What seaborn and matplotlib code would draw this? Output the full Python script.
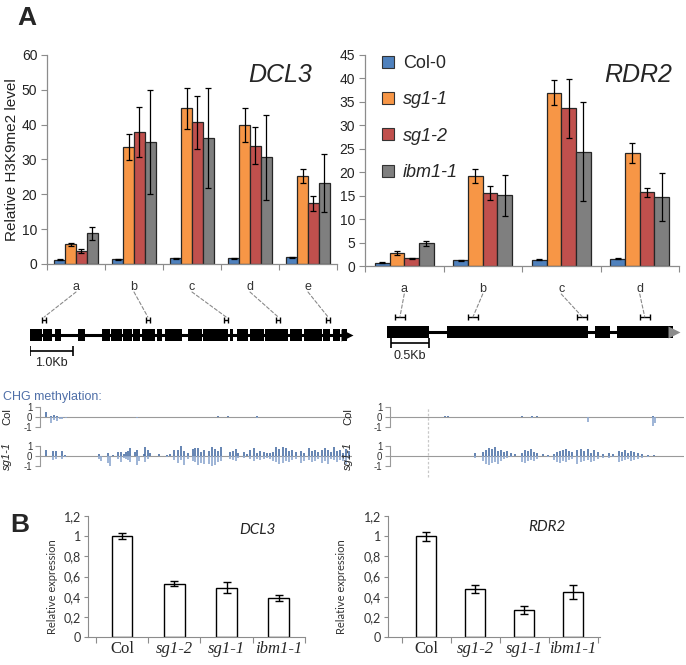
import numpy as np
import pandas as pd
import matplotlib.pyplot as plt
import seaborn as sns
from matplotlib.patches import ConnectionPatch, Patch

W, H = 686, 665

# ---------------- data ----------------
genotypes = ["Col-0", "sg1-1", "sg1-2", "ibm1-1"]
colors = ["#4F81BD", "#F79646", "#C0504D", "#7F7F7F"]

dcl3_regions = ["a", "b", "c", "d", "e"]
dcl3_col0 = [1.2, 1.3, 1.6, 1.6, 1.9]
dcl3_sg11 = [5.6, 33.5, 44.7, 39.9, 25.3]
dcl3_sg12 = [3.8, 37.9, 40.7, 34.0, 17.4]
dcl3_ibm1 = [8.8, 35.0, 36.1, 30.6, 23.2]
dcl3_col0_err = [0.1, 0.15, 0.15, 0.15, 0.15]
dcl3_sg11_err = [0.4, 3.7, 5.9, 4.8, 2.0]
dcl3_sg12_err = [0.5, 7.2, 7.6, 5.3, 2.2]
dcl3_ibm1_err = [1.9, 15.0, 14.3, 12.2, 8.4]

rdr2_regions = ["a", "b", "c", "d"]
rdr2_col0 = [0.7, 1.2, 1.3, 1.5]
rdr2_sg11 = [2.8, 19.2, 37.0, 24.1]
rdr2_sg12 = [1.6, 15.5, 33.6, 15.7]
rdr2_ibm1 = [4.8, 15.1, 24.4, 14.7]
rdr2_col0_err = [0.1, 0.1, 0.1, 0.1]
rdr2_sg11_err = [0.5, 1.4, 2.7, 2.2]
rdr2_sg12_err = [0.2, 1.5, 6.2, 0.9]
rdr2_ibm1_err = [0.6, 4.4, 10.6, 5.1]

# gene models (kb from start)
dcl3_exon_start = [0.00, 0.31, 0.58, 1.11, 1.67, 1.88, 2.17, 2.40, 2.60, 2.95, 3.14,
                   3.68, 4.03, 4.65, 4.81, 5.12, 5.47, 6.05, 6.36, 6.82, 7.05, 7.25]
dcl3_exon_end = [0.27, 0.50, 0.71, 1.28, 1.86, 2.13, 2.36, 2.56, 2.91, 3.06, 3.53,
                 3.99, 4.61, 4.73, 5.08, 5.43, 6.01, 6.32, 6.78, 6.98, 7.21, 7.36]
dcl3_primers = [0.33, 2.74, 4.56, 5.77, 6.93]
rdr2_exon_start = [0.00, 0.79, 2.74, 3.03]
rdr2_exon_end = [0.55, 2.64, 2.93, 3.76]
rdr2_primers = [0.17, 1.13, 2.57, 3.39]
rdr2_boundary_kb = 0.54

# CHG methylation (kb, top strand, bottom strand)
dcl3_col_pos = [0.37, 0.49, 0.56, 0.63, 0.70, 0.74, 0.84, 1.07, 1.44, 1.49, 1.81, 2.49,
                3.16, 4.37, 4.60, 5.28, 6.05, 6.12, 6.53, 7.00]
dcl3_col_up = [0.5, 0.15, 0.2, 0.1, 0.05, 0.05, 0.05, 0.05, 0.05, 0.05, 0.05, 0.0,
               0.05, 0.06, 0.06, 0.08, 0.05, 0.05, 0.05, 0.04]
dcl3_col_dn = [0.0, -0.6, -0.3, -0.4, -0.2, -0.15, -0.1, 0, 0, 0, 0, -0.05,
               0, 0, 0, -0.05, 0, 0, 0, 0]

dcl3_sg1_pos = [0.37, 0.53, 0.60, 0.74, 0.81,
                1.60, 1.65, 1.81, 1.86, 1.93, 2.05, 2.12, 2.19, 2.23, 2.28, 2.33, 2.44, 2.49,
                2.53, 2.65, 2.67, 2.74, 2.79,
                3.00, 3.19, 3.26, 3.35, 3.44, 3.51, 3.58, 3.67, 3.79,
                3.84, 3.91, 3.98, 4.05,
                4.16, 4.23, 4.30, 4.37, 4.44,
                4.65, 4.72, 4.79, 4.84,
                4.98, 5.05, 5.12, 5.21, 5.28, 5.35,
                5.44, 5.51, 5.58, 5.65, 5.72, 5.79,
                5.88, 5.95, 6.02, 6.09, 6.19,
                6.30, 6.37, 6.49, 6.56, 6.63, 6.70,
                6.79, 6.86, 6.93, 7.00, 7.07, 7.14, 7.21, 7.28, 7.35, 7.42]
dcl3_sg1_up = [0.6, 0.5, 0.5, 0.5, 0.1,
               0.2, 0.0, 0.3, 0.0, 0.1, 0.4, 0.4, 0.2, 0.4, 0.5, 0.8, 0.4, 0.6, 0.0, 0.2, 0.9, 0.6, 0.3,
               0.2, 0.1, 0.2, 0.6, 0.6, 1.0, 0.5, 0.3, 0.7,
               0.8, 0.8, 0.4, 0.6,
               0.5, 0.9, 0.7, 0.5, 0.9,
               0.4, 0.5, 0.7, 0.3,
               0.4, 0.2, 0.6, 0.8, 0.3, 0.5,
               0.4, 0.3, 0.3, 0.4, 0.9, 0.7,
               0.9, 0.8, 0.5, 0.6, 0.4,
               0.5, 0.3, 0.8, 0.5, 0.6, 0.4,
               0.6, 0.8, 0.6, 0.4, 0.9, 0.5, 0.6, 0.3, 0.7, 0.5]
dcl3_sg1_dn = [0.0, -0.4, -0.3, -0.3, -0.1,
               -0.3, -0.5, -0.7, -1.0, 0.0, -0.3, -0.6, -0.2, -0.3, -0.4, -0.6, 0.0, -0.9, -0.5, 0.0,
               -0.6, -0.3, 0.0,
               0.0, -0.1, 0.0, -0.4, -0.7, -0.4, -0.9, -0.3, -0.5,
               -0.6, -0.9, -0.7, -0.8,
               -0.8, -1.0, -0.9, -0.6, -0.5,
               -0.3, -0.4, -0.5, -0.2,
               -0.2, 0.0, -0.3, -0.5, -0.3, -0.4,
               -0.3, -0.2, -0.3, -0.5, -0.6, -0.8,
               -0.7, -0.5, -0.6, -0.4, -0.3,
               -0.7, -0.5, -0.4, -0.6, -0.5, -0.3,
               -0.7, -0.5, -0.8, -0.3, -0.4, -0.6, -0.4, -0.5, -0.8, -0.3]

rdr2_col_pos = [0.21, 0.76, 0.80, 1.20, 1.62, 1.78, 1.84, 1.91, 1.97, 2.05, 2.10, 2.21,
                2.45, 2.51, 2.64, 2.71, 3.11, 3.22, 3.33, 3.50, 3.53, 3.57]
rdr2_col_up = [0.05, 0.08, 0.08, 0.05, 0.05, 0.08, 0.05, 0.08, 0.1, 0.05, 0.05, 0.05,
               0.05, 0.05, 0.05, 0.05, 0.05, 0.05, 0.05, 0.15, 0.05, 0.05]
rdr2_col_dn = [0, 0, 0, 0, 0, 0, 0, -0.05, 0, 0, 0, 0,
               0, 0, -0.5, 0, 0, 0, 0, -0.9, -0.6, 0]

rdr2_sg1_pos = [0.43, 0.89, 1.03, 1.16,
                1.26, 1.30, 1.34, 1.38, 1.42, 1.46, 1.50, 1.54, 1.58,
                1.63, 1.68,
                1.78, 1.82, 1.86, 1.90, 1.94, 1.98,
                2.05, 2.12,
                2.20, 2.24, 2.28, 2.32, 2.36, 2.40, 2.44,
                2.50, 2.56, 2.60, 2.64, 2.68, 2.72, 2.78, 2.84,
                2.92, 2.98,
                3.05, 3.09, 3.13, 3.17, 3.21, 3.25, 3.30, 3.36,
                3.44, 3.52, 3.62]
rdr2_sg1_up = [0.05, 0.05, 0.05, 0.3,
               0.4, 0.6, 0.8, 0.7, 0.9, 0.5, 0.6, 0.4, 0.5,
               0.3, 0.2,
               0.3, 0.6, 0.5, 0.7, 0.4, 0.3,
               0.2, 0.1,
               0.2, 0.4, 0.5, 0.6, 0.7, 0.5, 0.4,
               0.6, 0.7, 0.5, 0.7, 0.3, 0.6, 0.4, 0.2,
               0.3, 0.2,
               0.5, 0.4, 0.6, 0.3, 0.5, 0.4, 0.3, 0.2,
               0.1, 0.1, 0.05]
rdr2_sg1_dn = [0, 0, 0, -0.2,
               -0.5, -0.8, -0.9, -0.7, -0.6, -0.8, -0.5, -0.3, -0.2,
               -0.1, 0.0,
               -0.6, -0.7, -0.5, -0.4, -0.5, -0.3,
               0.0, -0.1,
               -0.4, -0.6, -0.7, -0.5, -0.6, -0.4, -0.3,
               -0.8, -0.6, -0.5, -0.4, -0.6, -0.5, -0.3, -0.2,
               -0.2, -0.1,
               -0.6, -0.5, -0.4, -0.3, -0.5, -0.4, -0.3, -0.2,
               -0.1, 0.0, 0.0]

# expression (panel B)
expr_labels = ["Col", "sg1-2", "sg1-1", "ibm1-1"]
dcl3_expr = [1.0, 0.528, 0.49, 0.39]
dcl3_expr_err = [0.03, 0.025, 0.058, 0.03]
rdr2_expr = [1.0, 0.475, 0.264, 0.445]
rdr2_expr_err = [0.045, 0.043, 0.04, 0.066]
expr_ticklabels = ["0", "0,2", "0,4", "0,6", "0,8", "1", "1,2"]

# ---------------- style ----------------
sns.set_style("ticks")
plt.rcParams["font.family"] = ["Liberation Sans", "DejaVu Sans"]
SPINE = "#8c8c8c"


def rect(x0, y0, x1, y1):
    return [x0 / W, 1 - y1 / H, (x1 - x0) / W, (y1 - y0) / H]


def chip_panel(ax, regions, vals, errs, ymax, step):
    n = len(regions)
    df = pd.DataFrame({"region": np.tile(regions, 4),
                       "genotype": np.repeat(genotypes, n),
                       "value": np.concatenate(vals)})
    sns.barplot(data=df, x="region", y="value", hue="genotype", hue_order=genotypes,
                palette=colors, saturation=1, width=0.75, edgecolor="#262626",
                linewidth=0.9, errorbar=None, legend=False, ax=ax)
    for cont, err in zip(ax.containers, errs):
        xs = [b.get_x() + b.get_width() / 2 for b in cont]
        hs = [b.get_height() for b in cont]
        ax.errorbar(xs, hs, yerr=err, fmt="none", ecolor="black", elinewidth=0.9,
                    capsize=2.5, capthick=0.9)
    sns.despine(ax=ax)
    for s in ["left", "bottom"]:
        ax.spines[s].set_color(SPINE)
        ax.spines[s].set_linewidth(0.9)
    ax.set_xlim(-0.5, n - 0.5)
    ax.set_ylim(0, ymax)
    ax.set_yticks(np.arange(0, ymax + 0.1, step))
    ax.tick_params(axis="y", labelsize=10, length=4, color=SPINE, pad=3, labelcolor="#222")
    ax.set_xticks(np.arange(n + 1) - 0.5, [""] * (n + 1))
    ax.set_xticks(range(n), regions, minor=True)
    ax.tick_params(axis="x", which="major", length=4, color=SPINE)
    ax.tick_params(axis="x", which="minor", length=0, labelsize=9, pad=12, labelcolor="#333")
    ax.set_xlabel("")
    ax.set_ylabel("")


def gene_model(ax, starts, ends, primers, yc, arrow_color, scale_kb, scale_x0, scale_y,
               label_y, pbar):
    ax.set_ylim(375, 300)
    ax.axis("off")
    ax.plot([starts[0], ends[-1]], [yc, yc], color="black", lw=2.2, solid_capstyle="butt")
    ax.broken_barh([(s, e - s) for s, e in zip(starts, ends)], (yc - 6, 12),
                   facecolors="black", edgecolors="none")
    ax.plot(ends[-1] + 0.02, yc, marker=">", ms=8.5, color=arrow_color, mec="none", clip_on=False)
    ax.errorbar(primers, [yc - 15.5] * len(primers), xerr=pbar, fmt="none", ecolor="black",
                elinewidth=1, capsize=2.2, capthick=1)
    ax.errorbar([scale_x0 + scale_kb / 2], [scale_y], xerr=scale_kb / 2, fmt="none",
                ecolor="black", elinewidth=1.2, capsize=3.5, capthick=1.2)
    ax.text(scale_x0 + scale_kb / 2, label_y, f"{scale_kb:.1f}Kb", ha="center", va="center",
            fontsize=9, color="#222")


def meth_track(ax, pos, up, dn, xlim, label, italic, label_x):
    ax.set_xlim(*xlim)
    ax.set_ylim(-1, 1)
    ax.axhline(0, color="#9a9a9a", lw=0.8, zorder=1)
    ax.vlines(pos, 0, up, color="#4A6FA5", lw=1.2, zorder=2)
    ax.vlines(pos, dn, 0, color="#8DA8D0", lw=1.2, zorder=2)
    for s in ["top", "right", "bottom"]:
        ax.spines[s].set_visible(False)
    ax.spines["left"].set_color("#9a9a9a")
    ax.spines["left"].set_linewidth(0.8)
    ax.set_xticks([])
    ax.set_yticks([-1, 0, 1], ["-1", "0", "1"])
    ax.tick_params(axis="y", labelsize=7, length=3.5, color="#9a9a9a", pad=2, labelcolor="#333")
    ax.set_facecolor("none")
    # rotated track name, centred at label_x (pixels from figure left)
    x0 = ax.get_position().x0 * W
    ax.text((label_x - x0) / (ax.get_position().width * W), 0.5, label,
            transform=ax.transAxes, rotation=90, ha="center", va="center",
            fontsize=8, style="italic" if italic else "normal", color="#222")


def expr_panel(ax, vals, errs, xlim):
    df = pd.DataFrame({"genotype": expr_labels, "value": vals})
    sns.barplot(data=df, x="genotype", y="value", color="white", saturation=1,
                edgecolor="black", linewidth=1, width=0.4, errorbar=None, ax=ax)
    cont = ax.containers[0]
    xs = [b.get_x() + b.get_width() / 2 for b in cont]
    hs = [b.get_height() for b in cont]
    ax.errorbar(xs, hs, yerr=errs, fmt="none", ecolor="black", elinewidth=1,
                capsize=3, capthick=1)
    sns.despine(ax=ax)
    for s in ["left", "bottom"]:
        ax.spines[s].set_color(SPINE)
        ax.spines[s].set_linewidth(0.8)
    ax.set_xlim(*xlim)
    ax.set_ylim(0, 1.2)
    ax.set_yticks(np.arange(7) * 0.2, expr_ticklabels)
    ax.tick_params(axis="y", labelsize=9, length=3, color=SPINE, pad=2, labelcolor="#333")
    for t in ax.get_yticklabels():
        t.set_fontfamily(["Lato", "DejaVu Sans"])
    n = len(expr_labels)
    ax.set_xticks(np.arange(n + 1) - 0.5, [""] * (n + 1))
    ax.set_xticks(range(n), expr_labels, minor=True)
    ax.tick_params(axis="x", which="major", length=4, color=SPINE)
    ax.tick_params(axis="x", which="minor", length=0, labelsize=12, pad=3)
    for i, t in enumerate(ax.get_xticklabels(minor=True)):
        t.set_fontfamily(["Liberation Serif", "DejaVu Serif"])
        t.set_style("normal" if i == 0 else "italic")
    ax.set_xlabel("")
    ax.set_ylabel("Relative expression", fontsize=8, family=["Lato", "DejaVu Sans"], color="#333")


fig = plt.figure(figsize=(W / 100, H / 100), dpi=100)

# ---------------- panel A: ChIP ----------------
ax1 = fig.add_axes(rect(47, 55, 337, 264))
chip_panel(ax1, dcl3_regions, [dcl3_col0, dcl3_sg11, dcl3_sg12, dcl3_ibm1],
           [dcl3_col0_err, dcl3_sg11_err, dcl3_sg12_err, dcl3_ibm1_err], 60, 10)
ax2 = fig.add_axes(rect(365, 55, 679, 266))
chip_panel(ax2, rdr2_regions, [rdr2_col0, rdr2_sg11, rdr2_sg12, rdr2_ibm1],
           [rdr2_col0_err, rdr2_sg11_err, rdr2_sg12_err, rdr2_ibm1_err], 45, 5)

fig.text(12 / W, 1 - 160 / H, "Relative H3K9me2 level", rotation=90, ha="center",
         va="center", fontsize=11, color="#222")
fig.text(280 / W, 1 - 75 / H, "DCL3", ha="center", va="center", fontsize=18, style="italic")
fig.text(638 / W, 1 - 75 / H, "RDR2", ha="center", va="center", fontsize=18, style="italic")

handles = [Patch(facecolor=c, edgecolor="#333", lw=0.8) for c in colors]
leg = ax2.legend(handles, genotypes, loc="upper left", bbox_to_anchor=(0.055, 1.0),
                 frameon=False, fontsize=13, handlelength=0.65, handleheight=0.65,
                 handletextpad=0.5, labelspacing=1.07, borderpad=0, borderaxespad=0)
for t in leg.get_texts()[1:]:
    t.set_style("italic")

fig.text(17 / W, 1 - 25 / H, "A", ha="left", va="baseline", fontsize=19, weight="bold")
fig.text(10 / W, 1 - 532 / H, "B", ha="left", va="baseline", fontsize=19, weight="bold")

# ---------------- gene models ----------------
g1 = fig.add_axes(rect(30, 300, 350, 375))
g1.set_xlim(0, 7.44)
gene_model(g1, dcl3_exon_start, dcl3_exon_end, dcl3_primers, 335, "black",
           1.0, 0.0, 351, 363, 0.045)
g2 = fig.add_axes(rect(387, 300, 682, 375))
g2.set_xlim(0, 3.88)
gene_model(g2, rdr2_exon_start, rdr2_exon_end, rdr2_primers, 332, "#8c8c8c",
           0.5, 0.05, 343, 356, 0.065)

for ax, g, primers in [(ax1, g1, dcl3_primers), (ax2, g2, rdr2_primers)]:
    h = ax.get_window_extent().height
    yfrac = -28 / h
    for i, p in enumerate(primers):
        con = ConnectionPatch(xyA=(i, yfrac), coordsA=ax.get_xaxis_transform(),
                              xyB=(p, 317), coordsB=g.transData,
                              color="#8a8a8a", lw=0.8, linestyle=(0, (3, 2)))
        fig.add_artist(con)

# ---------------- methylation tracks ----------------
fig.text(3 / W, 1 - 400 / H, "CHG methylation:", ha="left", va="baseline",
         fontsize=9, color="#4F6FA8")

dcl3_xlim = (0.23, 7.49)
rdr2_xlim = (0.04, 3.91)
t1 = fig.add_axes(rect(40, 407, 352, 427))
meth_track(t1, dcl3_col_pos, dcl3_col_up, dcl3_col_dn, dcl3_xlim, "Col", False, 7)
t2 = fig.add_axes(rect(40, 446, 352, 466))
meth_track(t2, dcl3_sg1_pos, dcl3_sg1_up, dcl3_sg1_dn, dcl3_xlim, "sg1-1", True, 7)
t3 = fig.add_axes(rect(390, 407, 684, 427))
meth_track(t3, rdr2_col_pos, rdr2_col_up, rdr2_col_dn, rdr2_xlim, "Col", False, 348)
t4 = fig.add_axes(rect(390, 446, 684, 466))
meth_track(t4, rdr2_sg1_pos, rdr2_sg1_up, rdr2_sg1_dn, rdr2_xlim, "sg1-1", True, 348)
t4.axvline(rdr2_boundary_kb, ymin=-0.55, ymax=2.95, color="#c8c8c8", lw=0.9,
           linestyle=(0, (2, 1.5)), clip_on=False, zorder=0)

# ---------------- panel B: expression ----------------
b1 = fig.add_axes(rect(88, 516, 305, 637))
expr_panel(b1, dcl3_expr, dcl3_expr_err, (-0.65, 3.5))
b1.yaxis.set_label_coords(-0.138, 0.42)
b2 = fig.add_axes(rect(388, 516, 600, 637))
expr_panel(b2, rdr2_expr, rdr2_expr_err, (-0.78, 3.55))
b2.yaxis.set_label_coords(-0.193, 0.42)

fig.text(257 / W, 1 - 530 / H, "DCL3", ha="center", va="center", fontsize=11,
         style="italic", family=["Lato", "DejaVu Sans"])
fig.text(547 / W, 1 - 527 / H, "RDR2", ha="center", va="center", fontsize=11,
         style="italic", family=["Lato", "DejaVu Sans"])

fig.savefig("out.png", dpi=100)
